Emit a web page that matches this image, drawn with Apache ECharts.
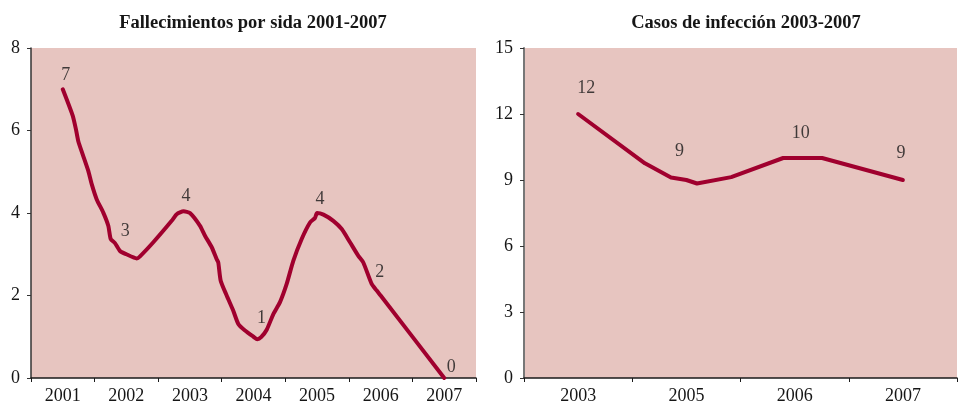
<!DOCTYPE html>
<html>
<head>
<meta charset="utf-8">
<script src="https://cdn.jsdelivr.net/npm/echarts@6/dist/echarts.min.js"></script>
<style>
  html, body { margin: 0; padding: 0; background: #ffffff; }
  #chart { width: 958px; height: 405px; }
</style>
</head>
<body>
<div id="chart"></div>
<script>
// Deaths from AIDS, 2001-2007
const leftYears = ['2001', '2002', '2003', '2004', '2005', '2006', '2007'];
const leftDeaths = [7, 3, 4, 1, 4, 2, 0];
// Curve trace: position along the year axis (year index + 0.5 = mid-year) and value
const leftCurvePos = [0.5, 0.656, 0.708, 0.744, 0.813, 0.901, 0.955, 1.034, 1.137, 1.216, 1.254, 1.321, 1.4, 1.5, 1.663, 1.715, 1.924, 2.213, 2.292, 2.4, 2.5, 2.659, 2.737, 2.843, 2.921, 2.946, 2.984, 3.078, 3.182, 3.261, 3.366, 3.5, 3.56, 3.62, 3.708, 3.812, 3.917, 4.022, 4.126, 4.258, 4.389, 4.467, 4.5, 4.6, 4.755, 4.888, 5.018, 5.149, 5.227, 5.359, 5.438, 5.5, 6.5];
const leftCurveVal = [7, 6.36, 6.02, 5.74, 5.42, 5.02, 4.7, 4.33, 4.01, 3.69, 3.37, 3.27, 3.08, 3, 2.9, 2.95, 3.29, 3.81, 3.97, 4.04, 4, 3.69, 3.45, 3.17, 2.88, 2.8, 2.36, 2, 1.63, 1.31, 1.15, 1, 0.94, 0.99, 1.17, 1.55, 1.84, 2.28, 2.84, 3.37, 3.77, 3.88, 4, 3.96, 3.81, 3.61, 3.29, 2.96, 2.8, 2.28, 2.12, 2, 0];
const leftTicks = [0, 2, 4, 6, 8];

// Infection cases, 2003-2007
const rightYears = ['2003', '2005', '2006', '2007'];
const rightCases = [12, 9, 10, 9];
const rightCurvePos = [0.5, 1.117, 1.358, 1.5, 1.598, 1.914, 2.394, 2.5, 2.754, 3.5];
const rightCurveVal = [12, 9.76, 9.11, 9, 8.84, 9.13, 10, 10, 10, 9];
const rightTicks = [0, 3, 6, 9, 12, 15];

// label nudges (pixels) relative to each point
const leftLabelShift = [[3, -14], [-1, -23], [-4, -17], [8, -18], [3, -14], [-1, -23], [7, -11]];
const rightLabelShift = [[8, -26], [-7, -29], [6, -25], [-2, -27]];

const FONT = '"Liberation Serif", "DejaVu Serif", serif';
const TEXT = '#161616';
const PLOT_BG = '#e7c5c0';
const LINE = '#a0002e';

function pairs(xs, ys) { return xs.map((x, i) => [x, ys[i]]); }
function labelled(vals, shifts) {
  return vals.map((v, i) => ({ value: v, label: { offset: shifts[i] } }));
}

function catAxis(grid, cats) {
  return {
    type: 'category', gridIndex: grid, data: cats, boundaryGap: true,
    axisLine: { lineStyle: { color: '#1a1a1a', width: 1.5 } },
    axisTick: { show: true, length: 4, lineStyle: { color: '#1a1a1a' } },
    axisLabel: { color: TEXT, fontFamily: FONT, fontSize: 18, margin: 9 },
    splitLine: { show: false }
  };
}
function posAxis(grid, n) {
  return { type: 'value', gridIndex: grid, min: 0, max: n, show: false };
}
function valAxis(grid, ticks, axisColor, axisWidth) {
  return {
    type: 'value', gridIndex: grid, min: ticks[0], max: ticks[ticks.length - 1],
    interval: ticks[1] - ticks[0],
    axisLine: { show: true, lineStyle: { color: axisColor, width: axisWidth } },
    axisTick: { show: true, length: 4, lineStyle: { color: '#333' } },
    axisLabel: { color: TEXT, fontFamily: FONT, fontSize: 18, margin: 11 },
    splitLine: { show: false }
  };
}
function labelSeries(xi, yi, vals, shifts) {
  return {
    type: 'scatter', xAxisIndex: xi, yAxisIndex: yi,
    data: labelled(vals, shifts),
    symbolSize: 1, itemStyle: { color: 'rgba(0,0,0,0)' },
    label: { show: true, position: 'inside', color: TEXT, fontFamily: FONT, fontSize: 18,
             formatter: p => String(p.value) },
    silent: true, z: 5
  };
}
function curveSeries(xi, yi, data, smooth) {
  return {
    type: 'line', xAxisIndex: xi, yAxisIndex: yi, data: data,
    symbol: 'none', smooth: smooth,
    lineStyle: { color: LINE, width: 4, cap: 'round', join: 'round' },
    silent: true, z: 3
  };
}

const chart = echarts.init(document.getElementById('chart'), null, { renderer: 'canvas' });
chart.setOption({
  animation: false,
  backgroundColor: '#ffffff',
  title: [
    { text: 'Fallecimientos por sida 2001-2007', left: 253, top: 14, textAlign: 'center', padding: 0,
      textStyle: { fontFamily: FONT, fontSize: 18.5, fontWeight: 'bold', color: TEXT } },
    { text: 'Casos de infección 2003-2007', left: 746, top: 14, textAlign: 'center', padding: 0,
      textStyle: { fontFamily: FONT, fontSize: 18.5, fontWeight: 'bold', color: TEXT } }
  ],
  grid: [
    { left: 31, right: 482, top: 48, bottom: 26, show: true, backgroundColor: PLOT_BG, borderWidth: 0 },
    { left: 524, right: 1, top: 48, bottom: 26, show: true, backgroundColor: PLOT_BG, borderWidth: 0 }
  ],
  xAxis: [
    catAxis(0, leftYears), posAxis(0, leftYears.length),
    catAxis(1, rightYears), posAxis(1, rightYears.length)
  ],
  yAxis: [
    valAxis(0, leftTicks, '#333333', 1.5),
    valAxis(1, rightTicks, '#777777', 2)
  ],
  series: [
    curveSeries(1, 0, pairs(leftCurvePos, leftCurveVal), 0.2),
    labelSeries(0, 0, leftDeaths, leftLabelShift),
    curveSeries(3, 1, pairs(rightCurvePos, rightCurveVal), false),
    labelSeries(2, 1, rightCases, rightLabelShift)
  ]
});
</script>
</body>
</html>
